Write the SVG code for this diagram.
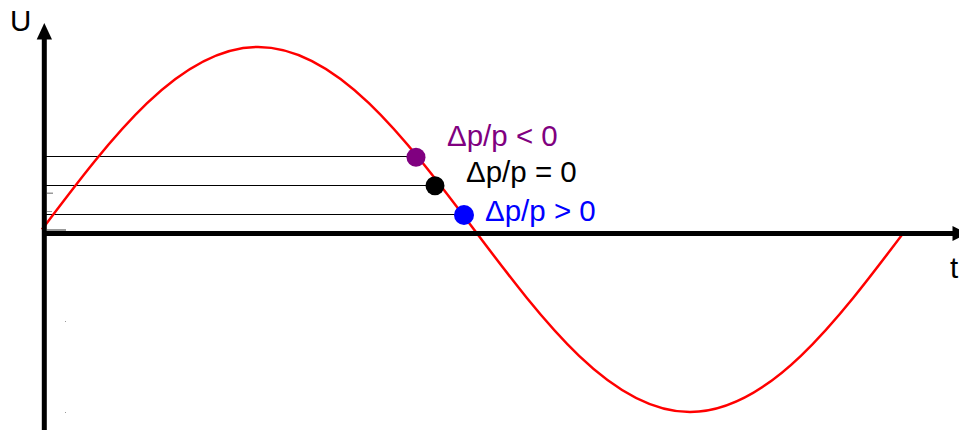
<svg xmlns="http://www.w3.org/2000/svg" width="959" height="430" viewBox="0 0 959 430">
<style>
.lbl{font-family:"Liberation Sans",Arial,sans-serif;font-size:29.5px}
.guide{stroke:#000;stroke-width:1;fill:none}
.axis{stroke:#000;stroke-width:5;fill:none}
.faint{fill:#9a9a9a}
</style>
<defs>
<clipPath id="cl"><rect x="40" y="0" width="863" height="430"/></clipPath>
</defs>
<rect width="959" height="430" fill="#fff"/>
<g id="guides">
<line class="guide" x1="44" y1="156.5" x2="416" y2="156.5"/>
<line class="guide" x1="44" y1="185.5" x2="435" y2="185.5"/>
<line class="guide" x1="44" y1="214.5" x2="464" y2="214.5"/>
<rect class="faint" x="47" y="192.5" width="6" height="1.5"/>
<rect class="faint" x="47" y="211" width="5" height="1"/>
<rect class="faint" x="47" y="229" width="19" height="2"/>
<rect class="faint" x="65" y="321" width="1" height="1"/>
<rect class="faint" x="65" y="412" width="1" height="1"/>
</g>
<g id="curve" clip-path="url(#cl)">
<path d="M42,229.5 C112.44,136 179.83,47 258,47 C336.17,47 403.56,136 474,229.5 C544.44,323 611.83,412 690,412 C768.17,412 835.56,323 906,229.5" fill="none" stroke="#ff0000" stroke-width="2.5"/>
</g>
<g id="axes">
<line class="axis" x1="44.3" y1="430" x2="44.3" y2="36"/>
<polygon points="44.3,23 36.7,39.5 52,39.5" fill="#000"/>
<line class="axis" x1="44" y1="233.5" x2="954" y2="233.5"/>
<polygon points="952.5,226 952.5,241 967,233.5" fill="#000"/>
<text class="lbl" x="10" y="31">U</text>
<text class="lbl" x="950" y="278">t</text>
</g>
<g id="pt-neg">
<circle cx="416" cy="157.3" r="9.5" fill="#800080"/>
<text class="lbl" x="447" y="146" fill="#800080">Δp/p &lt; 0</text>
</g>
<g id="pt-zero">
<circle cx="435" cy="185.7" r="9.5" fill="#000"/>
<text class="lbl" x="466" y="182" fill="#000">Δp/p = 0</text>
</g>
<g id="pt-pos">
<circle cx="464" cy="215" r="10" fill="#0000ff"/>
<text class="lbl" x="485" y="220.5" fill="#0000ff">Δp/p &gt; 0</text>
</g>
</svg>
